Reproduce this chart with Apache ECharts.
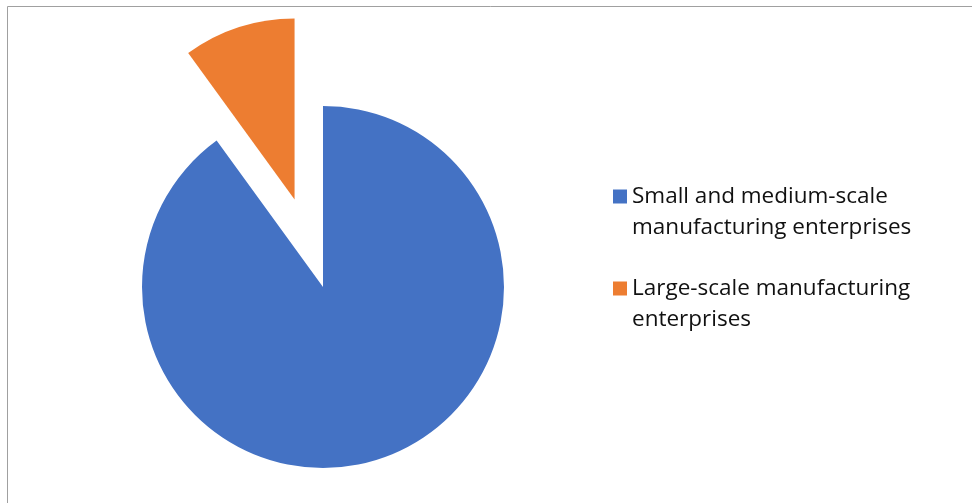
<!DOCTYPE html>
<html><head><meta charset="utf-8">
<script src="https://cdn.jsdelivr.net/npm/echarts@6/dist/echarts.min.js"></script>
<style>html,body{margin:0;padding:0;background:#fff}#c{width:972px;height:503px}</style>
</head><body><div id="c"></div>
<script>
const categories = ['Small and medium-scale manufacturing enterprises', 'Large-scale manufacturing enterprises'];
const legendLines = [['Small and medium-scale', 'manufacturing enterprises'], ['Large-scale manufacturing', 'enterprises']];
const values = [90, 10];
const colors = ['#4472C4', '#ED7D31'];

const chart = echarts.init(document.getElementById('c'), null, {renderer: 'canvas'});
const legendText = {fontFamily: 'Open Sans', fontSize: 22.5, color: '#111', lineHeight: 31};
const fmt = name => ' \n' + legendLines[categories.indexOf(name)].join('\n');
chart.setOption({
  animation: false,
  graphic: [{type: 'rect', left: 5, top: 4, shape: {width: 1000, height: 600}, style: {fill: 'none', stroke: '#A0A0A0', lineWidth: 1}, silent: true}],
  legend: [
    {data: [categories[0]], left: 608, top: 145, itemWidth: 14, itemHeight: 14, itemGap: 0, icon: 'rect', textStyle: legendText, formatter: fmt, selectedMode: false},
    {data: [categories[1]], left: 608, top: 237, itemWidth: 14, itemHeight: 14, itemGap: 0, icon: 'rect', textStyle: legendText, formatter: fmt, selectedMode: false}
  ],
  series: [{
    type: 'pie',
    center: [323, 287],
    radius: 181,
    startAngle: 90,
    clockwise: true,
    selectedMode: 'single',
    selectedOffset: 92,
    label: {show: false},
    labelLine: {show: false},
    emphasis: {disabled: true},
    itemStyle: {borderWidth: 0},
    data: categories.map((n, i) => ({name: n, value: values[i], selected: i === 1, itemStyle: {color: colors[i]}}))
  }]
});
</script></body></html>
